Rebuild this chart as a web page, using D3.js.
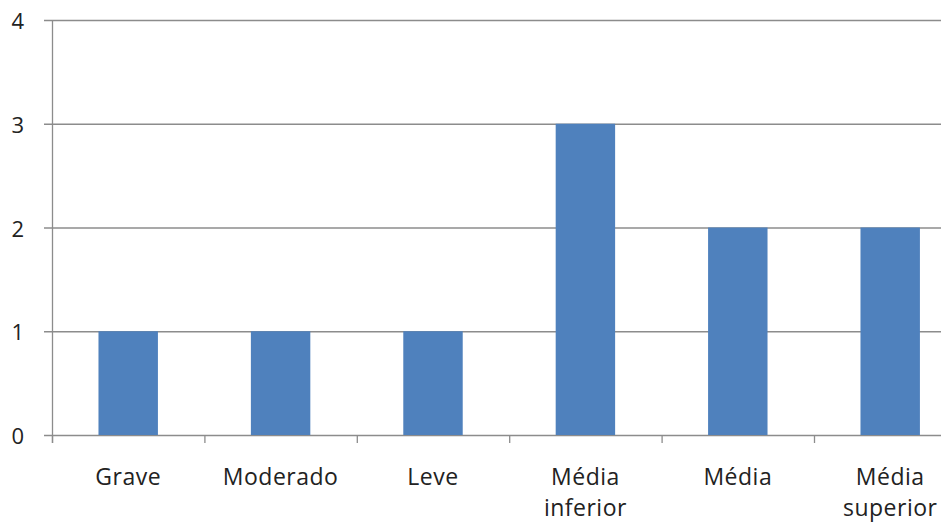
<!DOCTYPE html>
<html lang="pt">
<head>
<meta charset="UTF-8">
<title>Gráfico de barras</title>
<script src="https://cdn.jsdelivr.net/npm/d3@7"></script>
<style>
    body { margin: 0; padding: 0; background: #fff; }
    svg { display: block; }
    text { font-family: 'Open Sans', 'Noto Sans', sans-serif; fill: #222; }
</style>
</head>
<body>
<svg id="chart" width="941" height="523"></svg>
<script>
    // dados
    const categories = [["Grave"], ["Moderado"], ["Leve"], ["Média", "inferior"], ["Média"], ["Média", "superior"]];
    const values = [1, 1, 1, 3, 2, 2];
    const yTicks = [0, 1, 2, 3, 4];

    const svg = d3.select("#chart");
    const plotLeft = 52, plotRight = 966.4, plotTop = 20, plotBottom = 435;

    const x = d3.scaleBand()
        .domain(d3.range(categories.length))
        .range([plotLeft, plotRight])
        .paddingInner(0.61)
        .paddingOuter(0.305);

    const step = x.step();

    const y = d3.scaleLinear().domain([0, 4]).range([plotBottom, plotTop]);

    // grade horizontal
    svg.append("g")
        .selectAll("line")
        .data(yTicks)
        .enter().append("line")
        .attr("x1", plotLeft - 8)
        .attr("x2", plotRight)
        .attr("y1", d => y(d) + 0.5)
        .attr("y2", d => y(d) + 0.5)
        .attr("stroke", "#8c8c8c")
        .attr("stroke-width", 1.3);

    // eixo y
    svg.append("line")
        .attr("x1", plotLeft + 0.5).attr("x2", plotLeft + 0.5)
        .attr("y1", plotTop).attr("y2", plotBottom + 8)
        .attr("stroke", "#8c8c8c")
        .attr("stroke-width", 1.3);

    svg.append("g")
        .selectAll("text")
        .data(yTicks)
        .enter().append("text")
        .attr("x", 24)
        .attr("y", d => y(d) + 9)
        .attr("text-anchor", "end")
        .attr("font-size", 22)
        .text(d => d);

    // marcas do eixo x
    svg.append("g")
        .selectAll("line")
        .data(d3.range(categories.length + 1))
        .enter().append("line")
        .attr("x1", i => plotLeft + i * step + 0.5)
        .attr("x2", i => plotLeft + i * step + 0.5)
        .attr("y1", plotBottom)
        .attr("y2", plotBottom + 8)
        .attr("stroke", "#8c8c8c")
        .attr("stroke-width", 1.3);

    // barras
    svg.append("g")
        .selectAll("rect")
        .data(values)
        .enter().append("rect")
        .attr("x", (d, i) => x(i))
        .attr("width", x.bandwidth())
        .attr("y", d => y(d))
        .attr("height", d => y(0) - y(d))
        .attr("fill", "#4f81bd");

    // rótulos
    const labels = svg.append("g")
        .selectAll("text")
        .data(categories)
        .enter().append("text")
        .attr("text-anchor", "middle")
        .attr("font-size", 23)
        .attr("letter-spacing", 0.5)
        .attr("transform", (d, i) => `translate(${x(i) + x.bandwidth() / 2},485)`);

    labels.selectAll("tspan")
        .data(d => d)
        .enter().append("tspan")
        .attr("x", 0)
        .attr("dy", (d, i) => i === 0 ? 0 : 31)
        .text(d => d);
</script>
</body>
</html>
